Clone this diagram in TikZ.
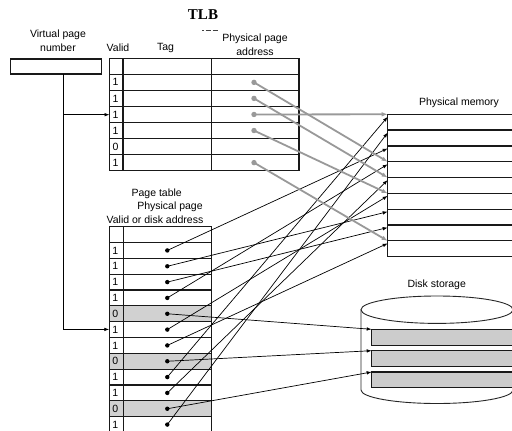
\documentclass[tikz,border=0pt]{standalone}
\usepackage{fontspec}
\setmainfont{Liberation Sans}
\newfontfamily\titlefont{Liberation Serif}
\usetikzlibrary{arrows.meta}

\begin{document}
\begin{tikzpicture}[x=1pt,y=-1pt,
  lbl/.style={font=\fontsize{10.5}{12}\selectfont, inner sep=0pt},
  grid/.style={line width=1.25pt, draw=black!90},
  ptr/.style={line width=0.7pt, -{Latex[length=5pt,width=3.6pt]}},
  gptr/.style={line width=1.8pt, draw=black!40, -{Latex[length=6pt,width=4.6pt]}},
  bdot/.style={circle, fill=black, inner sep=0pt, minimum size=4.4pt},
  gdot/.style={circle, fill=black!40, inner sep=0pt, minimum size=5.4pt},
  emptyrow/.style={fill=black!18},
]
\useasboundingbox (0,0) rectangle (512,431);
\clip (0,0) rectangle (512,431);

% ---------- titles and labels ----------
\node[font=\titlefont\bfseries\fontsize{15}{18}\selectfont, inner sep=0pt] (tlbtitle) at (203,14.3) {TLB};
\draw[line width=0.6pt, black!75] (202,30.4) -- (203.5,30.4) (205.5,30.4) -- (210.5,30.4) (212.5,30.4) -- (218,30.4);

\node[lbl] (vpn1) at (58,34.3) {Virtual page};
\node[lbl] (vpn2) at (58,47.5) {number};
\node[lbl] (hvalid) at (118,48) {Valid};
\node[lbl] (htag) at (165.5,48) {Tag};
\node[lbl] (hpp1) at (255,38.5) {Physical page};
\node[lbl] (hpp2) at (255,51.5) {address};
\node[lbl] (pmem) at (459,103) {Physical memory};
\node[lbl] (pt1l) at (156.7,193.3) {Page table};
\node[lbl] (pt2l) at (170,206.7) {Physical page};
\node[lbl] (pt3l) at (155,219.6) {Valid or disk address};
\node[lbl] (disk) at (436.7,284.3) {Disk storage};

% ---------- virtual page number register ----------
\draw[grid] (10.7,59) rectangle (101.7,74);
\coordinate (vpnout) at (63.3,74);
\coordinate (vpnbranch) at (63.3,114.7);
\coordinate (vpncorner) at (63.3,329.4);

% ---------- TLB ----------
\draw[grid] (109.5,58.3) rectangle (299,170.7);
\draw[grid] (123,58.3) -- (123,170.7) (211.2,58.3) -- (211.2,170.7);
\foreach \i in {1,...,6}
  \draw[grid] (109.5,{58.3+\i*16.05}) -- (299,{58.3+\i*16.05});
\foreach \v [count=\i] in {1,1,1,1,0,1}
  \node[lbl] (tv\i) at (115.6,{58.3+(\i+0.5)*16.05}) {\v};
\coordinate (tlbin) at (109.5,114.7);
\foreach \i in {1,2,3,4,6}
  \node[gdot] (t\i) at (254,{58.3+(\i+0.5)*16.05}) {};

% ---------- physical memory ----------
\draw[grid] (387.7,114.3) rectangle (530,256.7);
\foreach \k in {1,...,8}
  \draw[grid] (387.7,{114.3+\k*15.82}) -- (530,{114.3+\k*15.82});
\foreach \k in {0,...,8} {
  \coordinate (m\k) at (387.7,{114.3+\k*15.82});
  \coordinate (mb\k) at (387.7,{116.8+\k*15.82});
}

% ---------- page table ----------
\foreach \i in {5,8,11}
  \fill[emptyrow] (109.3,{226.7+\i*15.83}) rectangle (211.7,{226.7+(\i+1)*15.83});
\draw[grid] (109.3,440) -- (109.3,226.7) -- (211.7,226.7) -- (211.7,440);
\draw[grid] (123.3,226.7) -- (123.3,440);
\foreach \i in {1,...,12}
  \draw[grid] (109.3,{226.7+\i*15.83}) -- (211.7,{226.7+\i*15.83});
\foreach \v [count=\i] in {1,1,1,1,0,1,1,0,1,1,0,1} {
  \node[lbl] (pv\i) at (115.4,{226.7+(\i+0.5)*15.83}) {\v};
  \node[bdot] (p\i) at (167.3,{226.7+(\i+0.5)*15.83}) {};
}
\coordinate (ptin) at (109.3,329.4);

% ---------- disk storage ----------
\draw[line width=0.9pt, draw=black!85] (361,309.7) -- (361,390)
  arc[start angle=180, end angle=0, x radius=76, y radius=13.5] -- (513,309.7);
\draw[line width=0.9pt, draw=black!85, fill=white] (437,309.7) ellipse [x radius=76, y radius=13.7];
\foreach \j/\ya/\yb in {1/329.3/345.7, 2/350.7/366.7, 3/372/387.7} {
  \draw[grid, fill=black!20] (371.7,\ya) rectangle (530,\yb);
  \coordinate (d\j) at (371.7,\ya);
}

% ---------- virtual page number lookup ----------
\draw[line width=0.8pt] (vpnout) -- (vpncorner);
\draw[ptr] (vpncorner) -- (ptin);
\draw[ptr] (vpnbranch) -- (tlbin);

% ---------- page table pointers ----------
\draw[ptr] (p1.center) -- (mb2);
\draw[ptr] (p2.center) -- (mb6);
\draw[ptr] (p3.center) -- (mb7);
\draw[ptr] (p4.center) -- (mb3);
\draw[ptr] (p6.center) -- (mb5);
\draw[ptr] (p7.center) -- (mb8);
\draw[ptr] (p9.center) -- (mb0);
\draw[ptr] (p10.center) -- (mb4);
\draw[ptr] (p12.center) -- (mb1);
\draw[ptr] (p5.center) -- (d1);
\draw[ptr] (p8.center) -- (d2);
\draw[ptr] (p11.center) -- (d3);

% ---------- TLB pointers ----------
\draw[gptr] (t1.center) -- (m3);
\draw[gptr] (t2.center) -- (m4);
\draw[gptr] (t3.center) -- (m0);
\draw[gptr] (t4.center) -- (m5);
\draw[gptr] (t6.center) -- (m8);
\end{tikzpicture}
\end{document}
